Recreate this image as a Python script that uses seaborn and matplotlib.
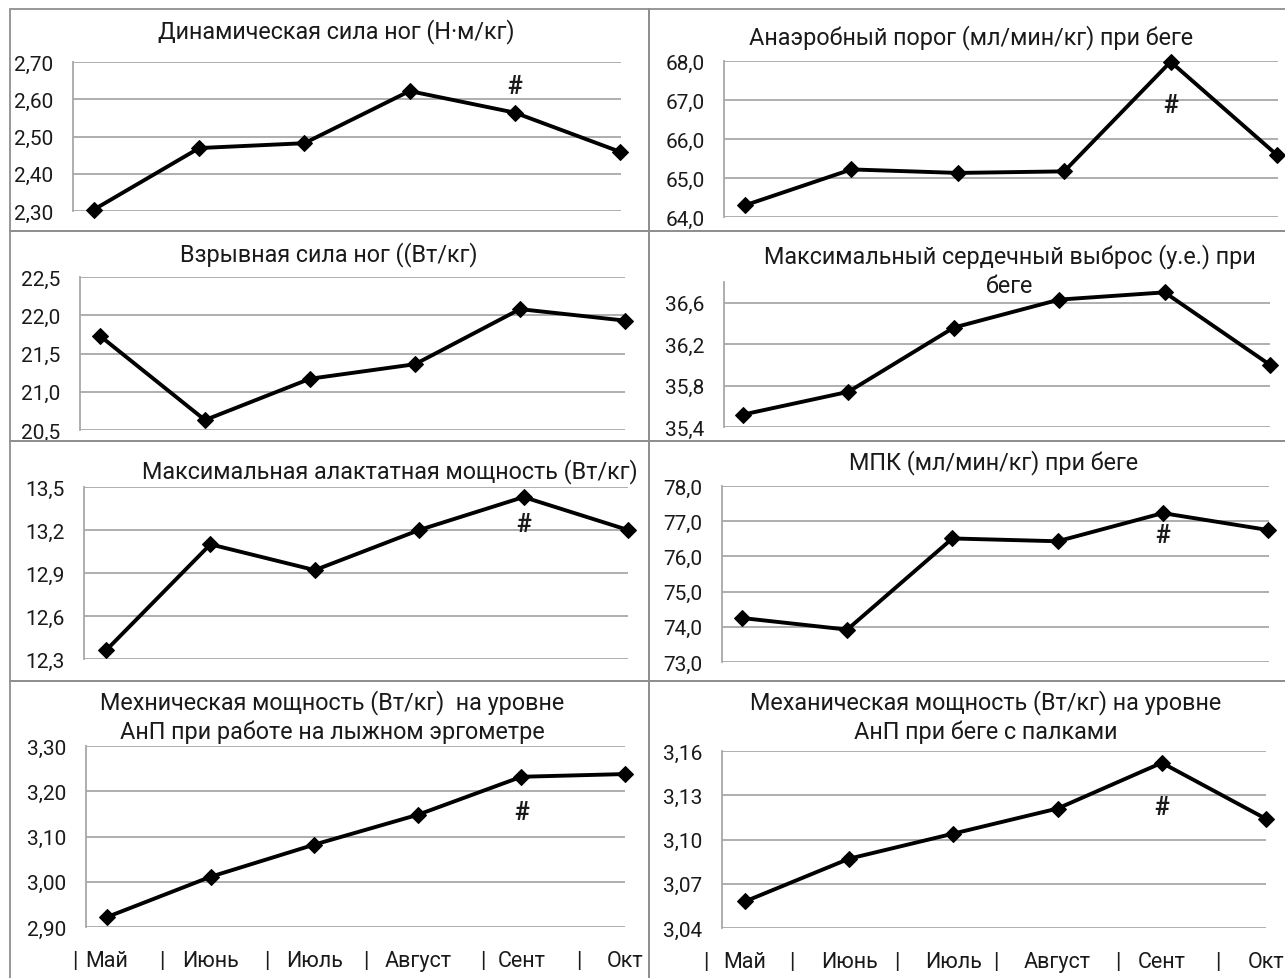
import numpy as np
import pandas as pd
import matplotlib
matplotlib.use("Agg")
import matplotlib.pyplot as plt
from matplotlib.patches import Rectangle
from matplotlib.ticker import FuncFormatter
from matplotlib.transforms import offset_copy
import seaborn as sns

sns.set_theme(style="white")
plt.rcParams["font.family"] = ["Roboto", "DejaVu Sans"]

# Месяцы наблюдений
months = ["Май", "Июнь", "Июль", "Август", "Сент", "Окт"]

# Показатели по месяцам
dyn_leg_strength = [2.304, 2.469, 2.482, 2.622, 2.564, 2.459]
anaerobic_threshold = [64.30, 65.22, 65.13, 65.17, 67.98, 65.59]
explosive_leg_power = [21.73, 20.63, 21.17, 21.36, 22.08, 21.93]
max_cardiac_output = [35.52, 35.74, 36.36, 36.63, 36.70, 36.00]
max_alactic_power = [12.36, 13.10, 12.92, 13.20, 13.43, 13.20]
vo2max = [74.25, 73.92, 76.51, 76.43, 77.23, 76.75]
ski_erg_power = [2.922, 3.011, 3.082, 3.148, 3.232, 3.238]
pole_run_power = [3.058, 3.087, 3.104, 3.121, 3.152, 3.114]

# Заголовки панелей
titles = [
    "Динамическая сила ног (Н·м/кг)",
    "Анаэробный порог (мл/мин/кг) при беге",
    "Взрывная сила ног ((Вт/кг)",
    "Максимальный сердечный выброс (у.е.) при\nбеге",
    "Максимальная алактатная мощность (Вт/кг)",
    "МПК (мл/мин/кг) при беге",
    "Мехническая мощность (Вт/кг)  на уровне\nАнП при работе на лыжном эргометре",
    "Механическая мощность (Вт/кг) на уровне\nАнП при беге с палками",
]
series = [dyn_leg_strength, anaerobic_threshold, explosive_leg_power,
          max_cardiac_output, max_alactic_power, vo2max,
          ski_erg_power, pole_run_power]

# Деления оси Y: (мин, макс, шаг, знаков после запятой, верх оси)
y_scales = [
    (2.30, 2.70, 0.10, 2, 2.70),
    (64.0, 68.0, 1.0, 1, 68.0),
    (20.5, 22.5, 0.5, 1, 22.5),
    (35.4, 36.6, 0.4, 1, 36.8),
    (12.3, 13.5, 0.3, 1, 13.5),
    (73.0, 78.0, 1.0, 1, 78.0),
    (2.90, 3.30, 0.10, 2, 3.30),
    (3.04, 3.16, 0.03, 2, 3.16),
]

# Отметка "#" (значимые различия): значение по оси Y
hash_marks = [2.635, 66.87, None, None, 13.24, 76.6, 3.155, 3.122]

# Разделители "|" в подписях месяцев (в единицах категорий)
separators_left = [-0.31, 0.53, 1.54, 2.50, 3.63, 4.55]
separators_right = [-0.38, 0.45, 1.46, 2.41, 3.58, 4.54]

W, H = 1285, 979
fig = plt.figure(figsize=(W / 100, H / 100), dpi=100)
fig.patch.set_facecolor("white")

# Рамки панелей (пиксели): x0, y0, x1, y1
frames = [
    (10, 10, 649, 232), (649, 10, 1290, 232),
    (10, 232, 649, 442), (649, 232, 1290, 442),
    (10, 442, 649, 682), (649, 442, 1290, 682),
    (10, 682, 649, 985), (649, 682, 1290, 985),
]
for x0, y0, x1, y1 in frames:
    fig.patches.append(Rectangle((x0 / W, 1 - y1 / H), (x1 - x0) / W, (y1 - y0) / H,
                                 transform=fig.transFigure, fill=False,
                                 edgecolor="#8f8f8f", linewidth=1.3, zorder=0))

# Области графиков (пиксели): левый, правый, верх, низ, x первой и последней точки
layouts = [
    (73, 621, 63, 212, 94, 620),
    (724, 1278, 62, 218, 745, 1277),
    (80, 625, 278, 431, 100, 625),
    (724, 1270, 283, 428, 743, 1270),
    (84, 628, 488, 660, 106, 628),
    (722, 1269, 487, 663, 742, 1268),
    (86, 625, 747, 928, 107, 625),
    (722, 1266, 752, 929, 745, 1266),
]
# Положение заголовков (центр блока текста, пиксели)
title_pos = [(336, 32), (971, 38), (329, 255), (1010, 271),
             (390, 472), (994, 463), (332, 717), (986, 717)]

for i, (vals, title, ys, hm, lay, tp) in enumerate(
        zip(series, titles, y_scales, hash_marks, layouts, title_pos)):
    left, right, top, bottom, xf, xl = lay
    ax = fig.add_axes([left / W, 1 - bottom / H, (right - left) / W, (bottom - top) / H])
    df = pd.DataFrame({"idx": np.arange(len(months)), "val": vals})
    sns.lineplot(data=df, x="idx", y="val", ax=ax, color="black", linewidth=2.8,
                 marker="D", markersize=8, markeredgecolor="black", clip_on=False,
                 zorder=5)
    unit = (xl - xf) / (len(months) - 1)
    ax.set_xlim((left - xf) / unit, (right - xf) / unit)
    ymin, ymax, step, dec, ytop = ys
    ticks = np.round(np.arange(ymin, ymax + step / 2, step), 4)
    ax.set_ylim(ymin, ytop)
    ax.set_yticks(ticks)
    ax.yaxis.set_major_formatter(FuncFormatter(
        lambda v, p, d=dec: f"{v:.{d}f}".replace(".", ",")))
    ax.grid(axis="y", color="#a8a8a8", linewidth=1.3)
    ax.grid(axis="x", visible=False)
    for s in ["top", "right", "bottom"]:
        ax.spines[s].set_visible(False)
    ax.spines["left"].set_color("#a8a8a8")
    ax.spines["left"].set_linewidth(1.3)
    ax.tick_params(axis="y", length=0, pad=14, labelsize=15, labelcolor="#1a1a1a")
    ax.set_xticks([])
    ax.set_xlabel("")
    ax.set_ylabel("")
    ax.patch.set_alpha(0)
    if i >= 6:
        # Подписи месяцев с разделителями под осью
        trans = offset_copy(ax.get_xaxis_transform(), fig=fig, y=-34, units="dots")
        for k, m in enumerate(months):
            ax.text(k, 0, m, transform=trans, ha="center", va="center",
                    fontsize=15.5, color="#1a1a1a", clip_on=False)
        seps = separators_left if i == 6 else separators_right
        for s in seps:
            ax.text(s, 0, "|", transform=trans, ha="center", va="center",
                    fontsize=15.5, color="#1a1a1a", clip_on=False)
    if hm is not None:
        ax.text(4, hm, "#", ha="center", va="center", fontsize=18,
                fontweight="bold", color="#1a1a1a", zorder=6)
    tx, ty = tp
    fig.text(tx / W, 1 - ty / H, title, ha="center", va="center", fontsize=16.8,
             color="#1a1a1a", linespacing=1.3)

fig.savefig("out.png", dpi=100, facecolor="white")
